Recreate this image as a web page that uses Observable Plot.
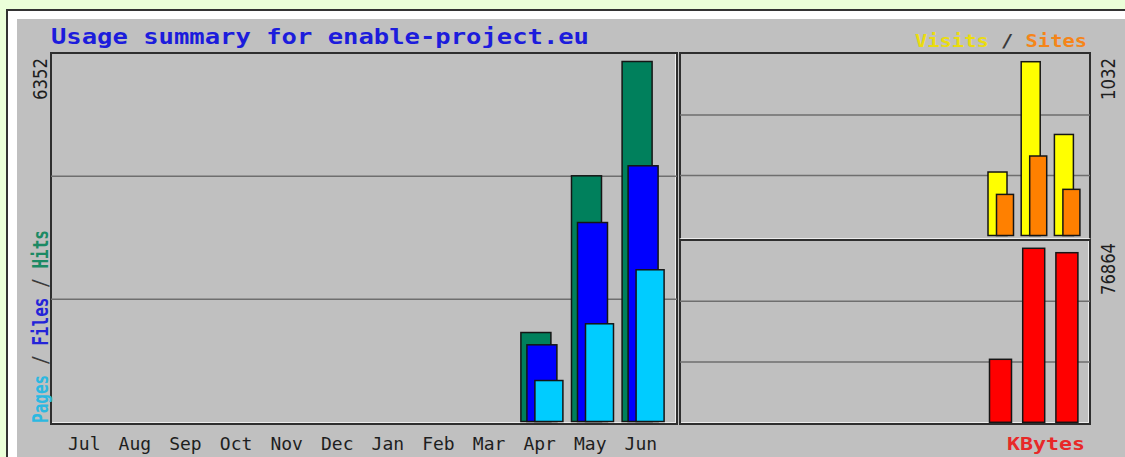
<!DOCTYPE html>
<html><head><meta charset="utf-8">
<script src="https://cdn.jsdelivr.net/npm/d3@7"></script>
<script src="https://cdn.jsdelivr.net/npm/@observablehq/plot@0.6"></script>
<style>
html,body{margin:0;padding:0;background:#ebffd9;}
#wrap{position:relative;width:1125px;height:457px;overflow:hidden;background:#ebffd9;}
.abs{position:absolute;}
.frame{position:absolute;box-sizing:border-box;border:2px solid #2e2e2e;box-shadow:inset -1px -1px 0 #ececec;}
.plot{position:absolute;}
</style></head><body>
<div id="wrap">
  <div class="abs" style="left:6px;top:9px;width:1119px;height:448px;background:#fff;border-left:2px solid #333;border-top:2px solid #333;box-sizing:border-box"></div>
  <div class="abs" style="left:17px;top:19px;width:1108px;height:438px;background:#c0c0c0"></div>
  <div class="frame" style="left:50px;top:52px;width:628px;height:373px"></div>
  <div class="frame" style="left:679px;top:52px;width:412px;height:187px;border-bottom:1px solid #ececec;box-shadow:none"></div>
  <div class="frame" style="left:679px;top:239px;width:412px;height:186px"></div>
  <div id="main" class="plot" style="left:51px;top:53px"></div>
  <div id="vis" class="plot" style="left:680px;top:54px"></div>
  <div id="kb" class="plot" style="left:680px;top:240px"></div>
  <svg id="labels" class="abs" style="left:0;top:0;pointer-events:none" width="1125" height="457"></svg>
</div>
<script>
// ---- data ----
const months = ["Jul","Aug","Sep","Oct","Nov","Dec","Jan","Feb","Mar","Apr","May","Jun"];
const hits   = [0,0,0,0,0,0,0,0,0,1570,4335,6352];
const files  = [0,0,0,0,0,0,0,0,0,1353,3511,4512];
const pages  = [0,0,0,0,0,0,0,0,0,723,1724,2677];
const visits = [0,0,0,0,0,0,0,0,0,377,1032,600];
const sites  = [0,0,0,0,0,0,0,0,0,244,472,274];
const kbytes = [0,0,0,0,0,0,0,0,0,27830,76864,74920];
const title = "Usage summary for enable-project.eu";

const rows = months.map((m,i)=>({m, hits:hits[i], files:files[i], pages:pages[i], visits:visits[i], sites:sites[i], kbytes:kbytes[i]}));
const C = {hits:"#00805c", files:"#0000ff", pages:"#00ccff", visits:"#ffff00", sites:"#ff8000", kbytes:"#ff0000"};
const stroke = {stroke:"#151515", strokeWidth:1.5};
const grid = {stroke:"#6e6e6e", strokeWidth:1.5};

// ---- main panel ----
const mainMax = d3.max(hits);
const mainTop = mainMax * 368.5 / 360;
const mainStep = 50.6;
const mainPlot = Plot.plot({
  width:626, height:404, marginTop:0, marginLeft:0, marginRight:0, marginBottom:35,
  style:{background:"transparent", overflow:"visible"},
  x:{type:"band", domain:months, range:[14.5, 14.5 + 12*mainStep], padding:0, round:false, label:null},
  y:{domain:[0, mainTop], range:[368.5, 0], axis:null},
  marks:[
    Plot.ruleY([mainTop/3, 2*mainTop/3], grid),
    Plot.barY(rows.filter(d=>d.hits>0), {x:"m", y:"hits", fill:C.hits, ...stroke, insetLeft:0, insetRight:mainStep-30}),
    Plot.barY(rows.filter(d=>d.files>0), {x:"m", y:"files", fill:C.files, ...stroke, insetLeft:6, insetRight:mainStep-36}),
    Plot.barY(rows.filter(d=>d.pages>0), {x:"m", y:"pages", fill:C.pages, ...stroke, insetLeft:14, insetRight:mainStep-42}),
    Plot.axisX({label:null, tickSize:0, tickPadding:15, textAnchor:"start", dx:-(mainStep/2)+2, fontSize:18, fontFamily:"DejaVu Sans Mono", fill:"#1e1e1e"})
  ]
});
document.getElementById("main").appendChild(mainPlot);

// ---- visits / sites panel ----
const sideStep = 33.2;
const visMax = d3.max(visits);
const visTop = visMax * 181.5 / 173.8;
const visPlot = Plot.plot({
  width:410, height:183, marginTop:0, marginLeft:0, marginRight:0, marginBottom:0,
  style:{background:"transparent", overflow:"visible"},
  x:{type:"band", domain:months, range:[9.2, 9.2 + 12*sideStep], padding:0, round:false, axis:null},
  y:{domain:[0, visTop], range:[181.5, 0], axis:null},
  marks:[
    Plot.ruleY([visTop/3, 2*visTop/3], grid),
    Plot.barY(rows.filter(d=>d.visits>0), {x:"m", y:"visits", fill:C.visits, ...stroke, insetLeft:0, insetRight:sideStep-19}),
    Plot.barY(rows.filter(d=>d.sites>0), {x:"m", y:"sites", fill:C.sites, ...stroke, insetLeft:8.5, insetRight:sideStep-25.5})
  ]
});
document.getElementById("vis").appendChild(visPlot);

// ---- kbytes panel ----
const kbMax = d3.max(kbytes);
const kbTop = kbMax * 182.3 / 174;
const kbPlot = Plot.plot({
  width:410, height:183, marginTop:0, marginLeft:0, marginRight:0, marginBottom:0,
  style:{background:"transparent", overflow:"visible"},
  x:{type:"band", domain:months, range:[9.2, 9.2 + 12*sideStep], padding:0, round:false, axis:null},
  y:{domain:[0, kbTop], range:[182.3, 0], axis:null},
  marks:[
    Plot.ruleY([kbTop/3, 2*kbTop/3], grid),
    Plot.barY(rows.filter(d=>d.kbytes>0), {x:"m", y:"kbytes", fill:C.kbytes, ...stroke, insetLeft:1.5, insetRight:sideStep-23.5})
  ]
});
document.getElementById("kb").appendChild(kbPlot);

// ---- labels ----
const svg = d3.select("#labels");
const mono = "DejaVu Sans Mono";
svg.append("text").attr("x",51).attr("y",43.5).attr("font-family",mono).attr("font-weight","bold")
  .attr("font-size",21).attr("fill","#1c1cdc").attr("textLength",538).attr("lengthAdjust","spacingAndGlyphs").text(title);

const vs = svg.append("text").attr("x",915).attr("y",46.5).attr("font-family",mono).attr("font-weight","bold")
  .attr("font-size",18).attr("textLength",172).attr("lengthAdjust","spacingAndGlyphs");
vs.append("tspan").attr("fill","#eadc10").text("Visits");
vs.append("tspan").attr("fill","#3a3a3a").text(" / ");
vs.append("tspan").attr("fill","#f5851a").text("Sites");

svg.append("text").attr("x",1007).attr("y",450).attr("font-family",mono).attr("font-weight","bold")
  .attr("font-size",18).attr("fill","#e82828").attr("textLength",78).attr("lengthAdjust","spacingAndGlyphs").text("KBytes");

function vlabel(x, y, txt, len){
  svg.append("text").attr("transform",`translate(${x},${y}) rotate(-90)`).attr("text-anchor","end")
    .attr("font-family","DejaVu Sans Condensed, DejaVu Sans").attr("font-size",19).attr("fill","#1e1e1e")
    .attr("textLength",len).attr("lengthAdjust","spacingAndGlyphs").text(txt);
}
vlabel(47, 58, String(mainMax), 42);
vlabel(1115, 58, String(visMax), 42);
vlabel(1115, 243, String(kbMax), 52);

const pf = svg.append("text").attr("transform","translate(48,423) rotate(-90)").attr("font-family",mono)
  .attr("font-weight","bold").attr("font-size",22).attr("textLength",193).attr("lengthAdjust","spacingAndGlyphs");
pf.append("tspan").attr("fill","#2cb8e0").text("Pages");
pf.append("tspan").attr("fill","#3a3a3a").text(" / ");
pf.append("tspan").attr("fill","#2424d8").text("Files");
pf.append("tspan").attr("fill","#3a3a3a").text(" / ");
pf.append("tspan").attr("fill","#1c8a64").text("Hits");
</script>
</body></html>
